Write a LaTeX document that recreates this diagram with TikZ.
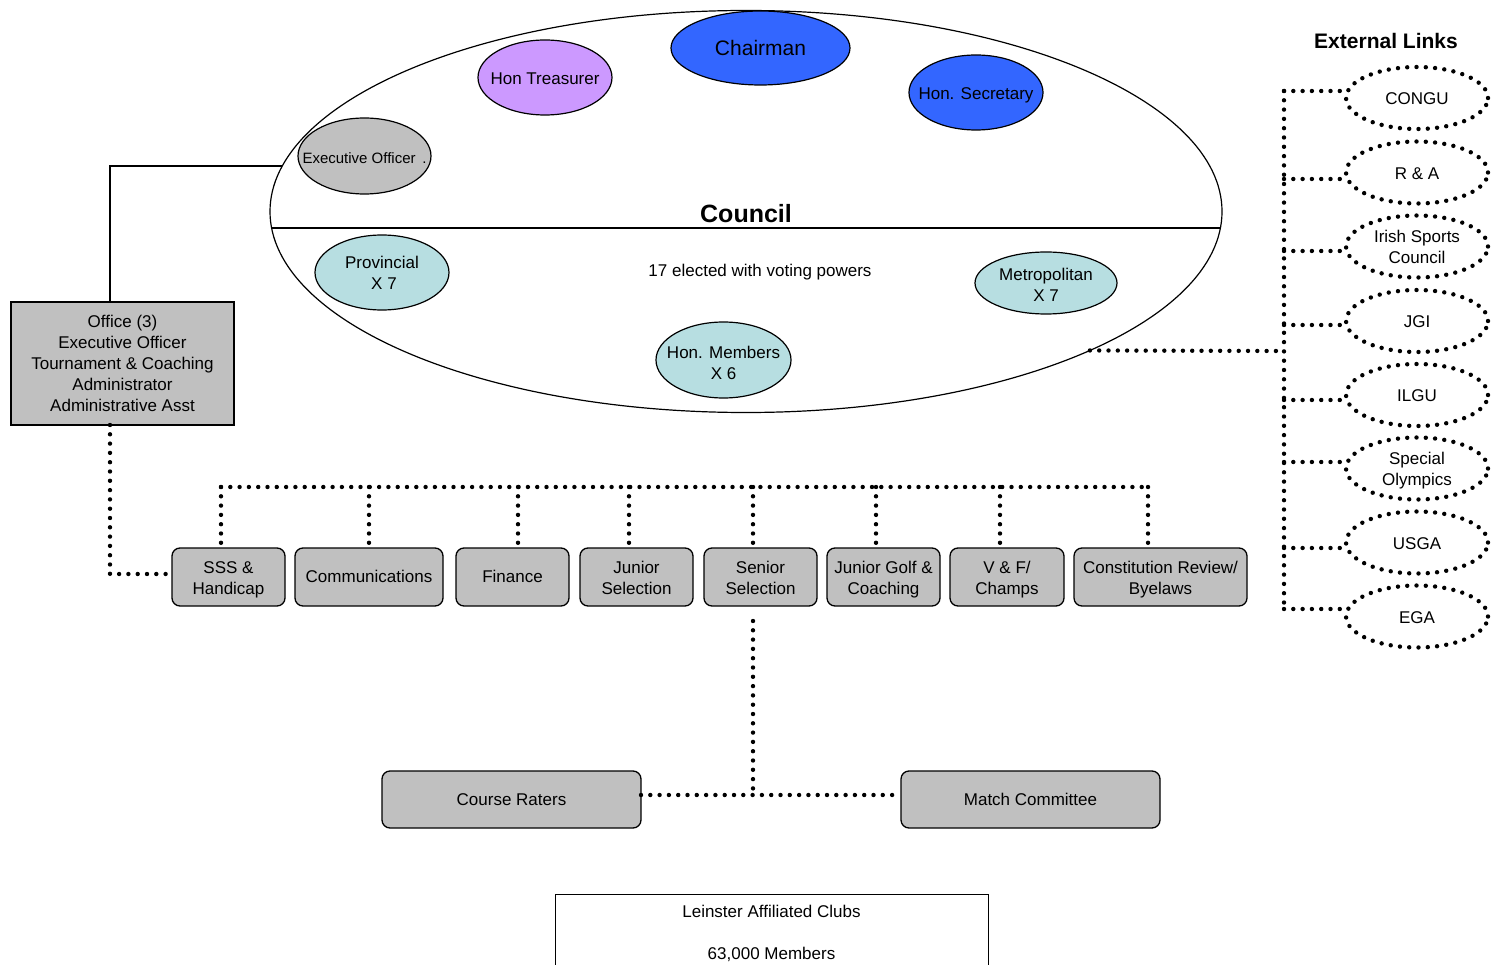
\documentclass[tikz,border=0pt]{standalone}
\usepackage{fontspec}
\setmainfont{Liberation Sans}
\usetikzlibrary{shapes.geometric}
\definecolor{cgray}{RGB}{192,192,192}
\definecolor{cblue}{RGB}{51,102,255}
\definecolor{cviolet}{RGB}{204,153,255}
\definecolor{cteal}{RGB}{183,222,225}
\newcommand\zbox[2][-2.5pt]{\makebox[0pt]{\raisebox{#1}[\height][\depth]{\begin{tabular}{@{}c@{}}#2\end{tabular}}}}
\newcommand\lbox[2][-3pt]{\raisebox{#1}[\height][\depth]{\begin{tabular}{@{}c@{}}#2\end{tabular}}}
\begin{document}
\begin{tikzpicture}[x=1pt,y=-1pt,
 every node/.style={font=\fontsize{17}{21}\selectfont, align=center, inner sep=0pt, outer sep=0pt},
 oval/.style={ellipse, draw, line width=1.2pt},
 dots/.style={line width=4.4pt, line cap=round, dash pattern=on 0pt off 9.3pt},
 cbox/.style={draw, fill=cgray, rounded corners=8pt, line width=1.3pt, minimum height=58pt},
 ext/.style={ellipse, draw, dots, minimum width=142pt, minimum height=62pt},
]
\useasboundingbox (0,0) rectangle (1491,965);
\clip (0,0) rectangle (1491,965);

% Council
\node[oval, minimum width=952pt, minimum height=402pt] (council) at (746,211.5) {};
\draw[line width=1.2pt] (council.182.05) -- (council.-2.3);
\node[font=\bfseries\fontsize{25}{30}\selectfont] (clabel) at (746,214) {Council};
\node (voting) at (760,272) {17 elected with voting powers};

\node[oval, fill=cblue, minimum width=179pt, minimum height=74pt, font=\fontsize{21}{25}\selectfont] (chair) at (760.5,48) {\zbox[-3pt]{Chairman}};
\node[oval, fill=cviolet, minimum width=134pt, minimum height=75pt] (treas) at (545,77.5) {\zbox{Hon Treasurer}};
\node[oval, fill=cblue, minimum width=134pt, minimum height=75pt] (sec) at (976,92.5) {\zbox{Hon. Secretary}};
\node[oval, fill=cgray, minimum width=133pt, minimum height=76pt, font=\fontsize{15}{18}\selectfont] (exec) at (364.5,156) {\zbox[-3.5pt]{Executive Officer\ \,.}};
\node[oval, fill=cteal, minimum width=134pt, minimum height=75pt] (prov) at (382,272.5) {\zbox{Provincial\\\hspace*{4pt}X 7}};
\node[oval, fill=cteal, minimum width=142pt, minimum height=62pt] (metro) at (1046,283) {\zbox[-4pt]{Metropolitan\\X 7}};
\node[oval, fill=cteal, minimum width=135pt, minimum height=76pt] (honm) at (723.5,360) {\zbox[-4.5pt]{Hon. Members\\X 6}};

% Office
\node[draw, fill=cgray, line width=1.3pt, minimum width=223pt, minimum height=123pt] (office) at (122.5,363.5)
 {\lbox[-2pt]{Office (3)\\Executive Officer\\Tournament \& Coaching\\Administrator\\Administrative Asst}};
\coordinate (oc) at (110,0);
\coordinate (cw) at (282,166);
\draw[line width=1.1pt] (office.north -| oc) |- (cw);

% Committees
\node[cbox, minimum width=113pt] (sss) at (228.5,577) {\lbox{SSS \&\\Handicap}};
\node[cbox, minimum width=148pt] (comm) at (369,577) {\lbox[-1.5pt]{Communications}};
\node[cbox, minimum width=113pt] (fin) at (512.5,577) {\lbox[-1.5pt]{Finance}};
\node[cbox, minimum width=113pt] (jsel) at (636.5,577) {\lbox{Junior\\Selection}};
\node[cbox, minimum width=113pt] (ssel) at (760.5,577) {\lbox{Senior\\Selection}};
\node[cbox, minimum width=113pt] (jgolf) at (883.5,577) {\lbox{Junior Golf \&\\Coaching}};
\node[cbox, minimum width=114pt] (vf) at (1007,577) {\lbox{V \& F/\\Champs}};
\node[cbox, minimum width=173pt] (const) at (1160.5,577) {\lbox{Constitution Review/\\Byelaws}};

\coordinate (sc) at (0,574);
\draw[dots] (office.south -| oc) |- (sss.west |- sc);

\coordinate (t1) at (221,487);
\coordinate (t2) at (369,487);
\coordinate (t3) at (518,487);
\coordinate (t4) at (629,487);
\coordinate (t5) at (753,487);
\coordinate (t6) at (876,487);
\coordinate (t7) at (1000,487);
\coordinate (t8) at (1148,487);
\draw[dots] (t1) -- (t8);
\draw[dots] (t1) -- (t1 |- sss.north);
\draw[dots] (t2) -- (t2 |- comm.north);
\draw[dots] (t3) -- (t3 |- fin.north);
\draw[dots] (t4) -- (t4 |- jsel.north);
\draw[dots] (t5) -- (t5 |- ssel.north);
\draw[dots] (t6) -- (t6 |- jgolf.north);
\draw[dots] (t7) -- (t7 |- vf.north);
\draw[dots] (t8) -- (t8 |- const.north);

% Lower committees
\node[cbox, minimum width=259pt, minimum height=57pt] (course) at (511.5,799.5) {\lbox[-1.5pt]{Course Raters}};
\node[cbox, minimum width=259pt, minimum height=57pt] (match) at (1030.5,799.5) {\lbox[-1.5pt]{Match Committee}};
\coordinate (sdrop) at (753,621);
\coordinate (sj) at (753,795);
\draw[dots] (sdrop) -- (sj);
\draw[dots] (course.east |- sj) -- (match.west |- sj);

% Clubs
\node[draw, line width=1pt, minimum width=433pt, anchor=north, inner ysep=10pt] (clubs) at (771.5,894)
 {\lbox[1pt]{Leinster Affiliated Clubs\\[21pt]63,000 Members}};

% External links
\node[font=\bfseries\fontsize{21}{25}\selectfont] (extl) at (1386,41) {External Links};
\node[ext] (congu) at (1417,98) {\zbox{CONGU}};
\node[ext] (ra) at (1417,172.5) {\zbox{R \& A}};
\node[ext] (isc) at (1417,246.5) {\zbox{Irish Sports\\Council}};
\node[ext] (jgi) at (1417,321) {\zbox{JGI}};
\node[ext] (ilgu) at (1417,395) {\zbox{ILGU}};
\node[ext] (so) at (1417,468.5) {\zbox{Special\\Olympics}};
\node[ext] (usga) at (1417,542.5) {\zbox{USGA}};
\node[ext] (ega) at (1417,616.5) {\zbox{EGA}};

\coordinate (e1) at (1284,91);
\coordinate (e2) at (1284,179);
\coordinate (e3) at (1284,251);
\coordinate (e4) at (1284,325);
\coordinate (e5) at (1284,400);
\coordinate (e6) at (1284,462);
\coordinate (e7) at (1284,548);
\coordinate (e8) at (1284,609);
\coordinate (e0) at (1284,351);
\draw[dots] (e1) -- (e8);
\draw[dots] (e1) -- (e1 -| congu.west);
\draw[dots] (e2) -- (e2 -| ra.west);
\draw[dots] (e3) -- (e3 -| isc.west);
\draw[dots] (e4) -- (e4 -| jgi.west);
\draw[dots] (e5) -- (e5 -| ilgu.west);
\draw[dots] (e6) -- (e6 -| so.west);
\draw[dots] (e7) -- (e7 -| usga.west);
\draw[dots] (e8) -- (e8 -| ega.west);
\draw[dots] (council.-22.3) -- (e0);
\end{tikzpicture}
\end{document}
